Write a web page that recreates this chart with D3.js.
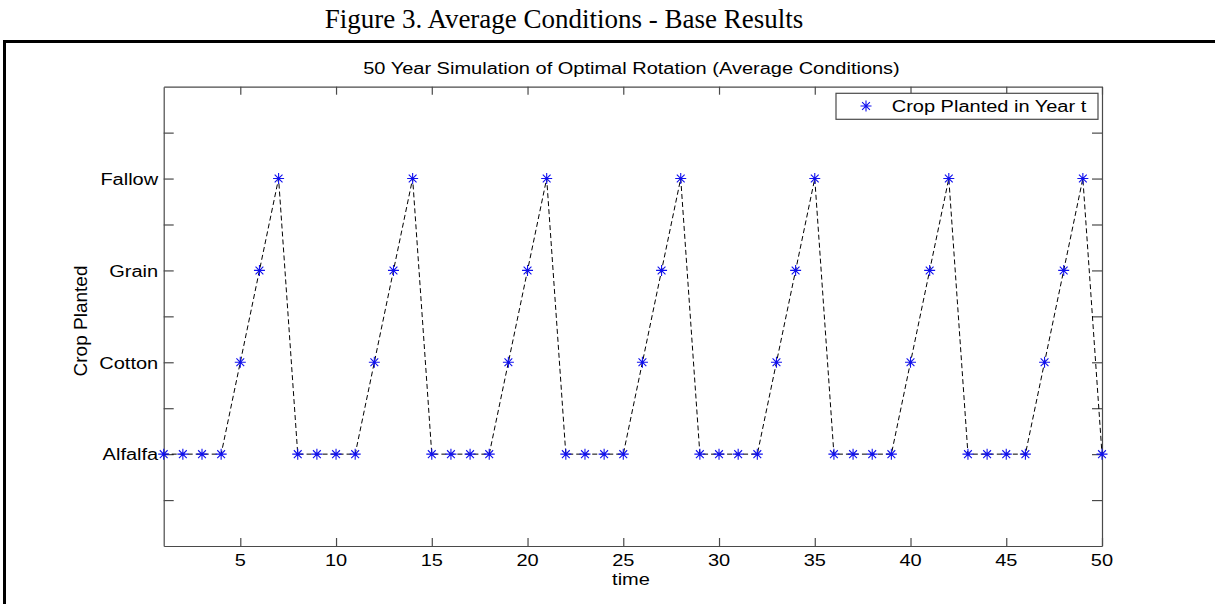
<!DOCTYPE html>
<html>
<head>
<meta charset="utf-8">
<script src="https://cdn.jsdelivr.net/npm/d3@7"></script>
<style>
  html, body { margin: 0; padding: 0; background: #fff; }
  svg { display: block; }
  .sans { font-family: Arial, "Liberation Sans", sans-serif; fill: #000; }
</style>
</head>
<body>
<svg id="chart" width="1215" height="604"></svg>
<script>
// ---- data ----
const cropCategories = ["Alfalfa", "Cotton", "Grain", "Fallow"];
const years = [1,2,3,4,5,6,7,8,9,10,11,12,13,14,15,16,17,18,19,20,21,22,23,24,25,
               26,27,28,29,30,31,32,33,34,35,36,37,38,39,40,41,42,43,44,45,46,47,48,49,50];
const cropPlanted = [
  "Alfalfa","Alfalfa","Alfalfa","Alfalfa","Cotton","Grain","Fallow",
  "Alfalfa","Alfalfa","Alfalfa","Alfalfa","Cotton","Grain","Fallow",
  "Alfalfa","Alfalfa","Alfalfa","Alfalfa","Cotton","Grain","Fallow",
  "Alfalfa","Alfalfa","Alfalfa","Alfalfa","Cotton","Grain","Fallow",
  "Alfalfa","Alfalfa","Alfalfa","Alfalfa","Cotton","Grain","Fallow",
  "Alfalfa","Alfalfa","Alfalfa","Alfalfa","Cotton","Grain","Fallow",
  "Alfalfa","Alfalfa","Alfalfa","Alfalfa","Cotton","Grain","Fallow",
  "Alfalfa"
];
const xTickValues = [5,10,15,20,25,30,35,40,45,50];
const yTickValues = [0.5,1,1.5,2,2.5,3,3.5,4,4.5];
const yTickLabels = {1:"Alfalfa", 2:"Cotton", 3:"Grain", 4:"Fallow"};
const figureTitle = "Figure 3. Average Conditions - Base Results";
const chartTitle = "50 Year Simulation of Optimal Rotation (Average Conditions)";
const xLabel = "time";
const yLabel = "Crop Planted";
const legendLabel = "Crop Planted in Year t";

// ---- layout ----
const svg = d3.select("#chart");
const L = 163.7, R = 1102, T = 86.7, B = 546;
const axisColor = "#4a4a4a";
const SX = 1.25; // horizontal stretch of the sans text

const x = d3.scaleLinear().domain([1, 50]).range([L, R]);
const y = d3.scaleLinear().domain([0, 5]).range([B, T]);
const cropValue = c => cropCategories.indexOf(c) + 1;

const points = years.map((yr, i) => ({ year: yr, crop: cropPlanted[i] }));

function sText(parent, txt, px, py, anchor, size) {
  return parent.append("text")
    .attr("class", "sans")
    .attr("transform", `translate(${px},${py}) scale(${SX},1)`)
    .attr("text-anchor", anchor)
    .attr("font-size", size || 16)
    .text(txt);
}

// outer frame (top + left rule)
svg.append("line").attr("x1", 4).attr("x2", 1215).attr("y1", 41.5).attr("y2", 41.5)
  .attr("stroke", "#000").attr("stroke-width", 3);
svg.append("line").attr("x1", 4.5).attr("x2", 4.5).attr("y1", 40).attr("y2", 604)
  .attr("stroke", "#000").attr("stroke-width", 3);

// figure caption
svg.append("text")
  .attr("x", 564).attr("y", 27.5)
  .attr("text-anchor", "middle")
  .attr("font-family", "'Times New Roman', 'Liberation Serif', serif")
  .attr("font-size", 27)
  .attr("fill", "#000")
  .text(figureTitle);

// chart title
sText(svg, chartTitle, 631.5, 74, "middle", 16);

// axes box + ticks
const g = svg.append("g");
const bottomAxis = d3.axisBottom(x).tickValues(xTickValues).tickSize(-8).tickPadding(12).tickFormat(d3.format("d"));
const topAxis = d3.axisTop(x).tickValues(xTickValues).tickSize(-8).tickFormat("");
const leftAxis = d3.axisLeft(y).tickValues(yTickValues).tickSize(-10).tickFormat("");
const rightAxis = d3.axisRight(y).tickValues(yTickValues).tickSize(-10).tickFormat("");

function styleAxis(sel) {
  sel.selectAll("path.domain").attr("stroke", axisColor).attr("stroke-width", 1.2);
  sel.selectAll(".tick line").attr("stroke", axisColor).attr("stroke-width", 1.2);
  sel.selectAll(".tick text").remove();
}
const gb = g.append("g").attr("transform", `translate(0,${B})`).call(bottomAxis.tickSizeOuter(0));
const gt = g.append("g").attr("transform", `translate(0,${T})`).call(topAxis.tickSizeOuter(0));
const gl = g.append("g").attr("transform", `translate(${L},0)`).call(leftAxis.tickSizeOuter(0));
const gr = g.append("g").attr("transform", `translate(${R},0)`).call(rightAxis.tickSizeOuter(0));
[gb, gt, gl, gr].forEach(styleAxis);

// x tick labels
xTickValues.forEach(v => sText(svg, String(v), x(v), 566, "middle", 16));
// y tick labels
Object.keys(yTickLabels).forEach(k => {
  sText(svg, yTickLabels[k], L - 5.5, y(+k) + 6.3, "end", 16);
});

// axis labels
sText(svg, xLabel, 631, 585, "middle", 16);
svg.append("text")
  .attr("class", "sans")
  .attr("transform", `translate(87,321) rotate(-90)`)
  .attr("text-anchor", "middle")
  .attr("font-size", 19)
  .text(yLabel);

// dashed line
const line = d3.line().x(d => x(d.year)).y(d => y(cropValue(d.crop)));
svg.append("path")
  .datum(points)
  .attr("d", line)
  .attr("fill", "none")
  .attr("stroke", "#000")
  .attr("stroke-width", 1)
  .attr("stroke-dasharray", "5,3");

// asterisk markers
const star = "M-5.5,0H5.5M0,-5.5V5.5M-3.9,-3.9L3.9,3.9M-3.9,3.9L3.9,-3.9";
svg.append("g").selectAll("path.mk")
  .data(points)
  .join("path")
  .attr("class", "mk")
  .attr("transform", d => `translate(${x(d.year)},${y(cropValue(d.crop))})`)
  .attr("d", star)
  .attr("fill", "none")
  .attr("stroke", "#1010ee")
  .attr("stroke-width", 1.1);

// legend
const lg = svg.append("g");
lg.append("rect")
  .attr("x", 836).attr("y", 93.3).attr("width", 262).attr("height", 26)
  .attr("fill", "#fff").attr("stroke", axisColor).attr("stroke-width", 1.2);
lg.append("path")
  .attr("transform", "translate(866,106)")
  .attr("d", star)
  .attr("fill", "none").attr("stroke", "#1010ee").attr("stroke-width", 1.1);
sText(lg, legendLabel, 891.7, 112.3, "start", 16);
</script>
</body>
</html>
